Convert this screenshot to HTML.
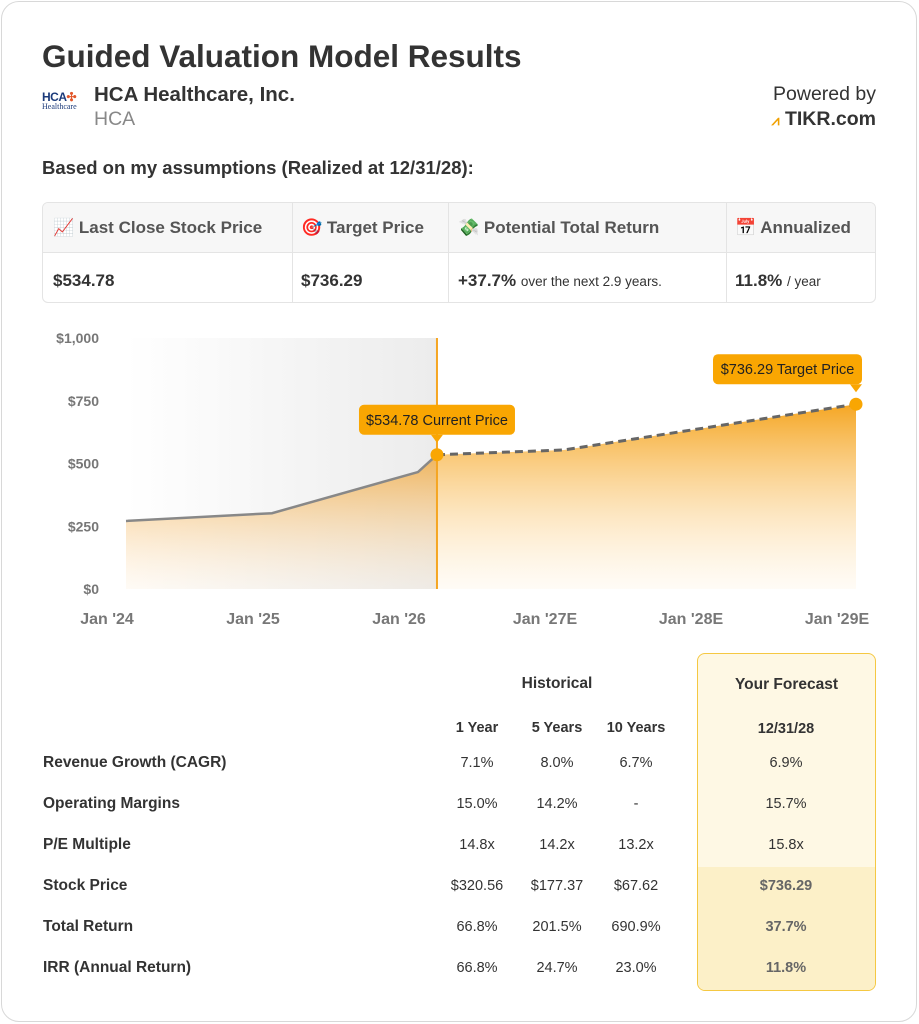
<!DOCTYPE html>
<html><head><meta charset="utf-8"><style>
*{box-sizing:border-box;margin:0;padding:0}
body{width:919px;height:1024px;background:#fff;font-family:"Liberation Sans",Arial,sans-serif;color:#333;position:relative;overflow:hidden}
.card{position:absolute;left:1px;top:1px;width:916px;height:1021px;border:1px solid #d8d8d8;border-radius:18px}
.abs{position:absolute}
.b{font-weight:bold}
.kt{position:absolute;left:42px;top:202px;width:834px;height:101px;border:1px solid #e4e4e4;border-radius:6px;overflow:hidden}
.kh{position:absolute;top:0;height:50px;background:#f7f7f7;border-bottom:1px solid #e4e4e4;width:100%}
.kc{position:absolute;font-size:17px;font-weight:bold;color:#555;top:15px}
.kv{position:absolute;font-size:17px;font-weight:bold;color:#333;top:68px}
.vd{position:absolute;top:0;width:1px;height:101px;background:#e4e4e4}
.tl{position:absolute;left:43px;font-size:15.5px;font-weight:bold;color:#333}
.tc{position:absolute;font-size:14.5px;color:#333;text-align:center;width:80px}
</style></head><body>
<div class="card"></div>
<div class="abs b" style="left:42px;top:38px;font-size:31.5px;color:#333">Guided Valuation Model Results</div>
<div class="abs" style="left:42px;top:90px;width:46px;height:24px">
<div style="font-size:12px;font-weight:bold;color:#1b3a7a;letter-spacing:-0.5px">HCA<span style="color:#e2572b">✣</span></div>
<div style="font-family:'Liberation Serif',serif;font-size:8px;color:#1b3a7a;margin-top:-2px">Healthcare</div></div>
<div class="abs b" style="left:94px;top:83px;font-size:20.5px;color:#333">HCA Healthcare, Inc.</div>
<div class="abs" style="left:94px;top:108px;font-size:19.5px;color:#888">HCA</div>
<div class="abs" style="right:43px;top:83px;font-size:19.5px;color:#333">Powered by</div>
<div class="abs b" style="right:43px;top:108px;font-size:19.5px;color:#333"><span style="color:#f0a000;font-size:14px">⩘</span> TIKR.com</div>
<div class="abs b" style="left:42px;top:157px;font-size:18.5px;color:#333">Based on my assumptions (Realized at 12/31/28):</div>

<div class="kt">
<div class="kh"></div>
<div class="vd" style="left:249px"></div><div class="vd" style="left:405px"></div><div class="vd" style="left:683px"></div>
<div class="kc" style="left:10px">📈 Last Close Stock Price</div>
<div class="kc" style="left:258px">🎯 Target Price</div>
<div class="kc" style="left:415px">💸 Potential Total Return</div>
<div class="kc" style="left:692px">📅 Annualized</div>
<div class="kv" style="left:10px">$534.78</div>
<div class="kv" style="left:258px">$736.29</div>
<div class="kv" style="left:415px">+37.7% <span style="font-size:13.5px;font-weight:normal">over the next 2.9 years.</span></div>
<div class="kv" style="left:692px">11.8% <span style="font-size:13.5px;font-weight:normal">/ year</span></div>
</div>

<svg id="chart" class="abs" style="left:0;top:320px" width="919" height="320">
<defs>
<linearGradient id="bg" x1="0" x2="1" y1="0" y2="0"><stop offset="0" stop-color="#fff"/><stop offset="1" stop-color="#ececec"/></linearGradient>
<linearGradient id="fh" x1="0" x2="0" y1="0" y2="1"><stop offset="0" stop-color="#f0a940" stop-opacity="0.85"/><stop offset="1" stop-color="#fde3c0" stop-opacity="0.15"/></linearGradient>
<linearGradient id="ff" x1="0" x2="0" y1="0" y2="1"><stop offset="0" stop-color="#f5a623" stop-opacity="1"/><stop offset="1" stop-color="#fff3e0" stop-opacity="0.3"/></linearGradient>
</defs>
<g id="g"></g>
</svg>

<div class="abs" style="left:697px;top:653px;width:179px;height:338px;border:1.5px solid #f5c842;border-radius:8px;background:#fef8e4;overflow:hidden">
<div style="position:absolute;left:0;top:213px;width:100%;height:130px;background:#fcf0c8"></div></div>
<div class="abs b" style="left:697px;top:676px;width:179px;text-align:center;font-size:15.5px;color:#333">Your Forecast</div>
<div class="abs b" style="left:507px;top:675px;width:100px;text-align:center;font-size:15.5px;color:#333">Historical</div>
<div class="tc b" style="left:437px;top:720px">1 Year</div>
<div class="tc b" style="left:517px;top:720px">5 Years</div>
<div class="tc b" style="left:596px;top:720px">10 Years</div>
<div class="tc b" style="left:746px;top:721px">12/31/28</div>
<div id="rows"></div>
<script>
// chart data
const dates=[2024.0,2025.0,2026.0,2026.13];
const histPrices=[271,302,466,534.78];
const fcDates=[2026.13,2027.0,2028.0,2029.0];
const fcPrices=[534.78,554,645,736.29];
const yTicks=[0,250,500,750,1000];
const yTickLabels=["$0","$250","$500","$750","$1,000"];
const xTicks=[2024,2025,2026,2027,2028,2029];
const xTickLabels=["Jan '24","Jan '25","Jan '26","Jan '27E","Jan '28E","Jan '29E"];
const NS="http://www.w3.org/2000/svg";
const X=t=>126+(t-2024)*146, Y=v=>269-v*0.251;
const g=document.getElementById('g');
function mk(tag,attrs){const e=document.createElementNS(NS,tag);for(const k in attrs)e.setAttribute(k,attrs[k]);g.appendChild(e);return e;}
const cx=X(dates[dates.length-1]);
let e=mk('rect',{x:126,y:Y(1000),width:cx-126,height:Y(0)-Y(1000),fill:'url(#bg)'});


let hp=dates.map((d,i)=>X(d)+','+Y(histPrices[i])).join(' L');
e=mk('path',{d:'M'+hp+' L'+cx+','+Y(0)+' L'+X(dates[0])+','+Y(0)+'Z',fill:'url(#fh)'});


let fp=fcDates.map((d,i)=>X(d)+','+Y(fcPrices[i])).join(' L');
e=mk('path',{d:'M'+fp+' L'+X(fcDates[fcDates.length-1])+','+Y(0)+' L'+X(fcDates[0])+','+Y(0)+'Z',fill:'url(#ff)'});


e=mk('path',{d:'M'+hp,fill:'none',stroke:'#888',"stroke-width":2.5});


e=mk('path',{d:'M'+fp,fill:'none',stroke:'#666',"stroke-width":3,"stroke-dasharray":'8 5'});


e=mk('line',{x1:cx,x2:cx,y1:Y(1000),y2:Y(0),stroke:'#f5a623',"stroke-width":2});


yTicks.forEach((v,i)=>{const t=mk('text',{x:99,y:Y(v)+5,"text-anchor":'end',"font-size":14,"font-weight":'bold',fill:'#777'});t.textContent=yTickLabels[i];

});
xTicks.forEach((v,i)=>{const t=mk('text',{x:X(v)-19,y:304,"text-anchor":'middle',"font-size":16,"font-weight":'bold',fill:'#777'});t.textContent=xTickLabels[i];

});
function tip(px,py,bx,w,label,name){
 const b=mk('rect',{x:bx,y:py-50,width:w,height:30,rx:5,fill:'#f9a602'});
 
 
 mk('path',{d:`M${px-6},${py-20} L${px+6},${py-20} L${px},${py-12}Z`,fill:'#f9a602'});
 const t=mk('text',{x:bx+w/2,y:py-30,"text-anchor":'middle',"font-size":14.5,fill:'#222'});t.textContent=label;
 
 
 const c=mk('circle',{cx:px,cy:py,r:6.5,fill:'#f9a602'});
 
 
}
const cy=Y(histPrices[3]);
tip(cx,cy,cx-78,156,'$'+histPrices[3].toFixed(2)+' Current Price','current-price-tooltip');
const ex=X(fcDates[3]);
tip(ex,Y(fcPrices[3]),ex-143,149,'$'+fcPrices[3].toFixed(2)+' Target Price','target-price-tooltip');

// table data
const rowLabels=["Revenue Growth (CAGR)","Operating Margins","P/E Multiple","Stock Price","Total Return","IRR (Annual Return)"];
const oneYear=["7.1%","15.0%","14.8x","$320.56","66.8%","66.8%"];
const fiveYear=["8.0%","14.2%","14.2x","$177.37","201.5%","24.7%"];
const tenYear=["6.7%","-","13.2x","$67.62","690.9%","23.0%"];
const forecast=["6.9%","15.7%","15.8x","$736.29","37.7%","11.8%"];
const rows=document.getElementById('rows');
rowLabels.forEach((l,i)=>{
 const y=754+i*41;
 const d=document.createElement('div');d.className='tl';d.style.top=y+'px';d.textContent=l;
 
 
 rows.appendChild(d);
 [[437,oneYear],[517,fiveYear],[596,tenYear],[746,forecast]].forEach(([x,arr],j)=>{
  const c=document.createElement('div');c.className='tc';c.style.left=x+'px';c.style.top=(y+1)+'px';c.textContent=arr[i];
  if(j==3&&i>=3){c.style.fontWeight='bold';c.style.color='#666';}
  
  
  rows.appendChild(c);
 });
});
</script>
</body></html>
